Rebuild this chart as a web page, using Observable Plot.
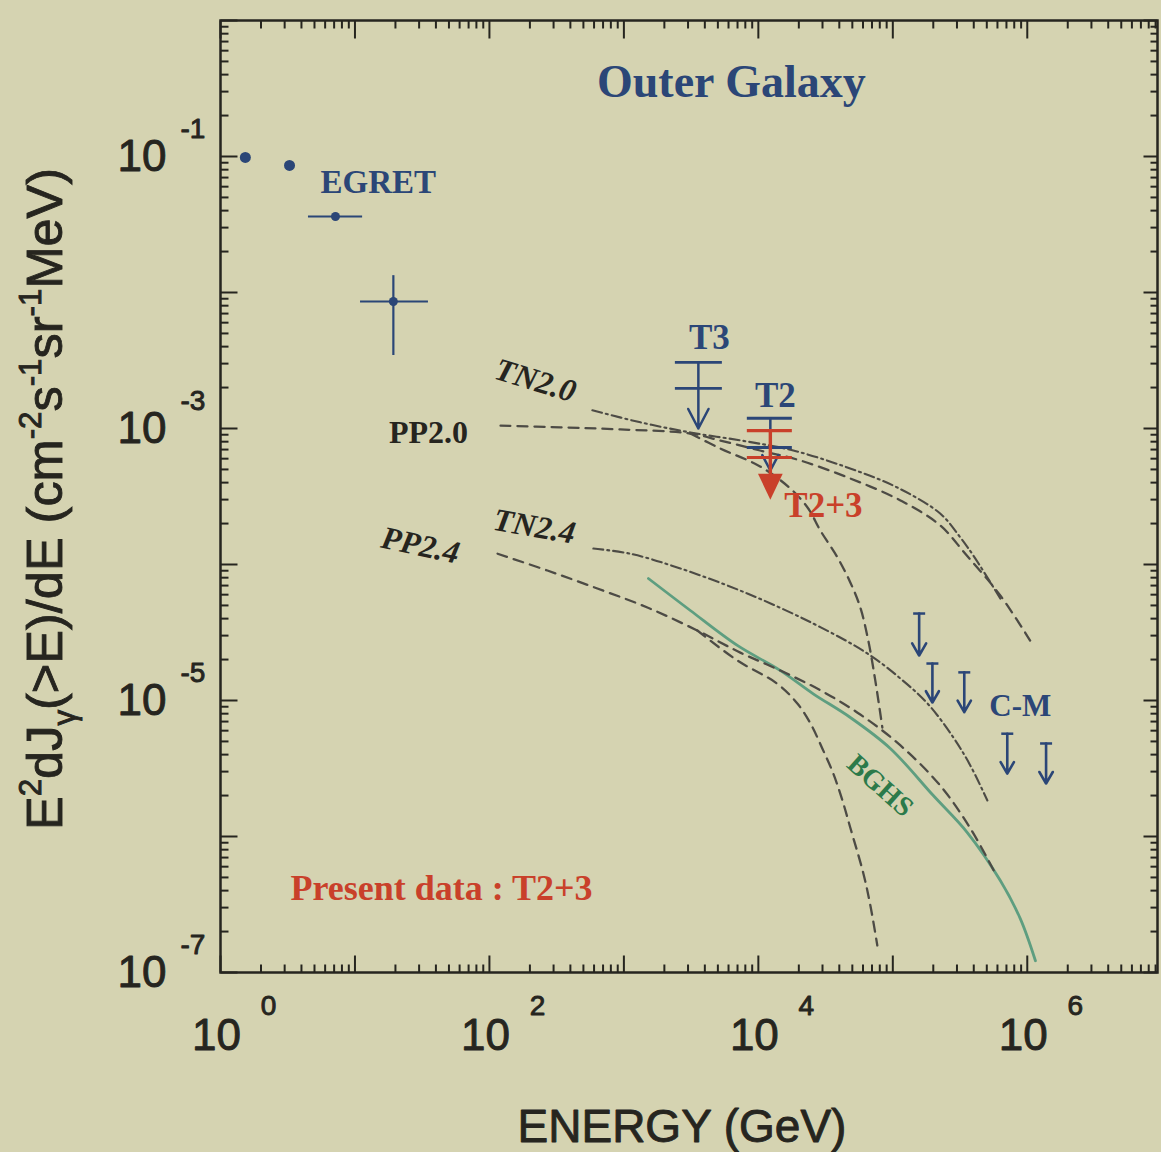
<!DOCTYPE html>
<html>
<head>
<meta charset="utf-8">
<script src="https://cdn.jsdelivr.net/npm/d3@7"></script>
<script src="https://cdn.jsdelivr.net/npm/@observablehq/plot@0.6"></script>
<style>
  html, body { margin: 0; padding: 0; background: #d5d3b1; }
  #chart svg { display: block; }
</style>
</head>
<body>
<div id="chart"></div>
<script>
// ---------------- DATA ----------------
// EGRET points: energy (GeV), flux, error extents
const egretE    = [1.53, 3.26, 7.16, 19.3];
const egretF    = [0.0984, 0.0859, 0.0362, 0.00859];
const egretElo  = [null, null, 4.51, 11.0];
const egretEhi  = [null, null, 11.4, 35.2];
const egretFlo  = [null, null, null, 0.00344];
const egretFhi  = [null, null, null, 0.0133];

// Model curves
const tn20E = [583, 1327, 3120, 8280, 18200, 45900, 108000, 225000, 318000, 410000, 630000];
const tn20F = [1.36e-3, 1.11e-3, 9.35e-4, 8.02e-4, 6.89e-4, 5.17e-4, 3.68e-4, 2.37e-4, 1.58e-4, 1.11e-4, 5.62e-5];

const pp20E = [121, 337, 942, 3120, 5210, 10300, 20500, 48300, 114000, 225000, 346000, 630000, 1.05e6];
const pp20F = [1.05e-3, 1.02e-3, 9.84e-4, 9.19e-4, 8.16e-4, 6.89e-4, 5.82e-4, 4.29e-4, 2.96e-4, 1.94e-4, 1.20e-4, 5.92e-5, 2.76e-5];

const pp20cutE = [3120, 5210, 10300, 17300, 23500, 28900, 38700, 48300, 57300, 65700, 74100, 83600];
const pp20cutF = [9.19e-4, 7.13e-4, 5.26e-4, 3.62e-4, 2.58e-4, 1.78e-4, 1.13e-4, 7.38e-5, 4.83e-5, 2.76e-5, 1.40e-5, 6.33e-6];

const tn24E = [593, 1117, 2630, 8280, 25600, 64600, 114000, 181000, 282000, 377000, 505000];
const tn24F = [1.31e-4, 1.20e-4, 9.35e-5, 6.12e-5, 3.68e-5, 2.22e-5, 1.45e-5, 9.51e-6, 5.35e-6, 3.33e-6, 1.84e-6];

const pp24E = [115, 270, 635, 1496, 3520, 7340, 14600, 28900, 57300, 114000, 225000, 377000, 578000];
const pp24F = [1.20e-4, 9.03e-5, 6.66e-5, 4.83e-5, 3.27e-5, 2.25e-5, 1.66e-5, 1.19e-5, 7.89e-6, 4.67e-6, 2.37e-6, 1.15e-6, 5.35e-7];

const pp24cutE = [3520, 6980, 13800, 19500, 24400, 29900, 36100, 42200, 48300, 60400, 68100, 76700];
const pp24cutF = [3.27e-5, 1.97e-5, 1.33e-5, 9.51e-6, 6.78e-6, 4.44e-6, 2.90e-6, 1.84e-6, 1.16e-6, 5.35e-7, 3.11e-7, 1.58e-7];

const bghsE = [1521, 3120, 6980, 14600, 25600, 48300, 95800, 200000, 358000, 630000, 887000, 1.15e6];
const bghsF = [7.89e-5, 4.59e-5, 2.54e-5, 1.66e-5, 1.12e-5, 7.50e-6, 4.44e-6, 2.00e-6, 1.07e-6, 4.75e-7, 2.49e-7, 1.22e-7];

// Upper limits T3, T2 (blue) and T2+3 (red)
const limNames = ["T3", "T2", "T2+3"];
const limE     = [3580, 12280, 12280];
const limEmin  = [2415, 8280, 8280];
const limEmax  = [5400, 17900, 17900];
const limHi    = [3.06e-3, 1.19e-3, 9.66e-4];
const limLo    = [1.97e-3, 7.25e-4, 6.12e-4];
const limTip   = [1.0e-3, 4.91e-4, 3.06e-4];

// C-M upper limits
const cmE   = [157000, 197000, 340000, 710000, 1.38e6];
const cmTop = [4.36e-5, 1.87e-5, 1.61e-5, 5.7e-6, 4.83e-6];
const cmTip = [2.14e-5, 9.67e-6, 8.2e-6, 2.9e-6, 2.45e-6];

// Axis
const xDomain = [1, 9.3e6];
const yDomain = [1e-7, 1];
const xLabelExps = [0, 2, 4, 6];
const yLabelExps = [-1, -3, -5, -7];

// ---------------- STYLE ----------------
const bg = "#d5d3b1", ink = "#26251f", navy = "#2b4677", red = "#c9402a";
const curveInk = "#4d4b45", greenLine = "#5e9e80", greenText = "#2c7a4a";
const serif = "Liberation Serif, Times New Roman, serif";
const sans = "Liberation Sans, Arial, Helvetica, sans-serif";

// ---------------- BUILD ----------------
const zip = (E, F) => E.map((e, i) => ({E: e, F: F[i]}));
const tn20 = zip(tn20E, tn20F), pp20 = zip(pp20E, pp20F), pp20c = zip(pp20cutE, pp20cutF);
const tn24 = zip(tn24E, tn24F), pp24 = zip(pp24E, pp24F), pp24c = zip(pp24cutE, pp24cutF);
const bghs = zip(bghsE, bghsF);
const egret = egretE.map((e, i) => ({E: e, F: egretF[i], Elo: egretElo[i], Ehi: egretEhi[i], Flo: egretFlo[i], Fhi: egretFhi[i], big: i < 2}));
const lims = limNames.map((n, i) => ({name: n, E: limE[i], Emin: limEmin[i], Emax: limEmax[i], hi: limHi[i], lo: limLo[i], tip: limTip[i]}));
const blueLims = lims.filter(d => d.name !== "T2+3");
const redLims = lims.filter(d => d.name === "T2+3");
const cm = cmE.map((e, i) => ({E: e, top: cmTop[i], tip: cmTip[i]}));

const isMajor = v => Math.abs(Math.log10(v) - Math.round(Math.log10(v))) < 1e-9;
const xTicks = d3.scaleLog().domain(xDomain).ticks();
const yTicks = d3.scaleLog().domain(yDomain).ticks();
const xMajor = xTicks.filter(isMajor), xMinor = xTicks.filter(v => !isMajor(v));
const yMajor = yTicks.filter(isMajor), yMinor = yTicks.filter(v => !isMajor(v));

// custom symbols (pixel-sized)
const stick = (dx, dy) => ({draw(ctx, size) { const r = Math.sqrt(size / Math.PI); ctx.moveTo(0, 0); ctx.lineTo(dx * r, dy * r); }});
const tUp = stick(0, -1), tDown = stick(0, 1), tRight = stick(1, 0), tLeft = stick(-1, 0);
const hbar = {draw(ctx, size) { const r = Math.sqrt(size / Math.PI); ctx.moveTo(-r, 0); ctx.lineTo(r, 0); }};
const triDown = {draw(ctx, size) { const r = Math.sqrt(size / Math.PI); ctx.moveTo(-r * 0.95, -r); ctx.lineTo(r * 0.95, -r); ctx.lineTo(0, r); ctx.closePath(); }};

const tickStyle = {stroke: ink, strokeWidth: 2, fill: "none"};
const heavy = {stroke: ink, strokeWidth: 0.9};

const svg = Plot.plot({
  width: 1161,
  height: 1152,
  marginLeft: 220,
  marginRight: 4,
  marginTop: 20,
  marginBottom: 180,
  x: {type: "log", domain: xDomain, axis: null},
  y: {type: "log", domain: yDomain, axis: null},
  style: {background: bg, overflow: "visible"},
  marks: [
    // inward ticks on the four sides
    Plot.dot(xMajor, {x: d => d, frameAnchor: "bottom", symbol: tUp, r: 17, ...tickStyle}),
    Plot.dot(xMinor, {x: d => d, frameAnchor: "bottom", symbol: tUp, r: 8, ...tickStyle}),
    Plot.dot(xMajor, {x: d => d, frameAnchor: "top", symbol: tDown, r: 18, ...tickStyle}),
    Plot.dot(xMinor, {x: d => d, frameAnchor: "top", symbol: tDown, r: 8, ...tickStyle}),
    Plot.dot(yMajor, {y: d => d, frameAnchor: "left", symbol: tRight, r: 17, ...tickStyle}),
    Plot.dot(yMinor, {y: d => d, frameAnchor: "left", symbol: tRight, r: 8, ...tickStyle}),
    Plot.dot(yMajor, {y: d => d, frameAnchor: "right", symbol: tLeft, r: 14, ...tickStyle}),
    Plot.dot(yMinor, {y: d => d, frameAnchor: "right", symbol: tLeft, r: 7, ...tickStyle}),
    Plot.frame({stroke: ink, strokeWidth: 2.5}),

    // tick labels  10^n
    Plot.text(xLabelExps, {x: d => 10 ** d, frameAnchor: "bottom", text: () => "10", dy: 77, dx: -4, lineAnchor: "bottom", fontSize: 44, fontFamily: sans, fill: ink, ...heavy}),
    Plot.text(xLabelExps, {x: d => 10 ** d, frameAnchor: "bottom", text: d => String(d), dy: 42, dx: 48, lineAnchor: "bottom", textAnchor: "middle", fontSize: 28, fontFamily: sans, fill: ink, ...heavy}),
    Plot.text(yLabelExps, {y: d => 10 ** d, frameAnchor: "left", text: () => "10", dx: -54, textAnchor: "end", lineAnchor: "middle", fontSize: 44, fontFamily: sans, fill: ink, ...heavy}),
    Plot.text(yLabelExps, {y: d => 10 ** d, frameAnchor: "left", text: d => String(d), dx: -40, dy: -19, textAnchor: "start", lineAnchor: "bottom", fontSize: 28, fontFamily: sans, fill: ink, ...heavy}),
    Plot.text(["ENERGY (GeV)"], {frameAnchor: "bottom", text: d => d, dy: 169, dx: -7, lineAnchor: "bottom", fontSize: 46, fontFamily: sans, fill: ink, ...heavy}),

    // model curves
    Plot.line(pp20, {x: "E", y: "F", curve: "catmull-rom", stroke: curveInk, strokeWidth: 2.3, strokeDasharray: "10,7"}),
    Plot.line(pp20c, {x: "E", y: "F", curve: "catmull-rom", stroke: curveInk, strokeWidth: 2.3, strokeDasharray: "10,7"}),
    Plot.line(tn20, {x: "E", y: "F", curve: "catmull-rom", stroke: curveInk, strokeWidth: 2.1, strokeDasharray: "10,4,2,4"}),
    Plot.line(bghs, {x: "E", y: "F", curve: "catmull-rom", stroke: greenLine, strokeWidth: 2.8}),
    Plot.line(pp24, {x: "E", y: "F", curve: "catmull-rom", stroke: curveInk, strokeWidth: 2.3, strokeDasharray: "10,7"}),
    Plot.line(pp24c, {x: "E", y: "F", curve: "catmull-rom", stroke: curveInk, strokeWidth: 2.3, strokeDasharray: "10,7"}),
    Plot.line(tn24, {x: "E", y: "F", curve: "catmull-rom", stroke: curveInk, strokeWidth: 2.1, strokeDasharray: "10,4,2,4"}),

    // EGRET
    Plot.ruleY(egret.filter(d => d.Elo != null), {y: "F", x1: "Elo", x2: "Ehi", stroke: navy, strokeWidth: 2.2}),
    Plot.ruleX(egret.filter(d => d.Flo != null), {x: "E", y1: "Flo", y2: "Fhi", stroke: navy, strokeWidth: 2.2}),
    Plot.dot(egret.filter(d => d.big), {x: "E", y: "F", r: 5.5, fill: navy, stroke: "none"}),
    Plot.dot(egret.filter(d => !d.big), {x: "E", y: "F", r: 4.5, fill: navy, stroke: "none"}),

    // T3 / T2 upper limits (blue)
    Plot.ruleY(blueLims, {y: "hi", x1: "Emin", x2: "Emax", stroke: navy, strokeWidth: 2.8}),
    Plot.ruleY(blueLims, {y: "lo", x1: "Emin", x2: "Emax", stroke: navy, strokeWidth: 2.8}),
    Plot.arrow(blueLims, {x1: "E", x2: "E", y1: "hi", y2: "tip", stroke: navy, strokeWidth: 2.5, headLength: 22, headAngle: 55}),
    // T2+3 (red)
    Plot.ruleY(redLims, {y: "hi", x1: "Emin", x2: "Emax", stroke: red, strokeWidth: 3.2}),
    Plot.ruleY(redLims, {y: "lo", x1: "Emin", x2: "Emax", stroke: red, strokeWidth: 3.2}),
    Plot.ruleX(redLims, {x: "E", y1: "hi", y2: d => d.tip * 1.35, stroke: red, strokeWidth: 3.4}),
    Plot.dot(redLims, {x: "E", y: d => d.tip * 1.22, symbol: triDown, r: 13, fill: red, stroke: "none"}),

    // C-M upper limits
    Plot.dot(cm, {x: "E", y: "top", symbol: hbar, r: 6, stroke: navy, strokeWidth: 2.5, fill: "none"}),
    Plot.arrow(cm, {x1: "E", x2: "E", y1: "top", y2: "tip", stroke: navy, strokeWidth: 2.6, headLength: 16, headAngle: 60}),

    // annotations
    Plot.text(["Outer Galaxy"], {x: [6300], y: [0.276], text: d => d, textAnchor: "middle", lineAnchor: "bottom", fontSize: 46, fontWeight: "bold", fontFamily: serif, fill: navy}),
    Plot.text(["EGRET"], {x: [5.54], y: [0.0535], text: d => d, textAnchor: "start", lineAnchor: "bottom", fontSize: 33, fontWeight: "bold", fontFamily: serif, fill: navy}),
    Plot.text(["T3"], {x: [4320], y: [3.81e-3], text: d => d, textAnchor: "middle", lineAnchor: "bottom", fontSize: 35, fontWeight: "bold", fontFamily: serif, fill: navy}),
    Plot.text(["T2"], {x: [13400], y: [1.45e-3], text: d => d, textAnchor: "middle", lineAnchor: "bottom", fontSize: 35, fontWeight: "bold", fontFamily: serif, fill: navy}),
    Plot.text(["T2+3"], {x: [15600], y: [2.22e-4], text: d => d, textAnchor: "start", lineAnchor: "bottom", fontSize: 35, fontWeight: "bold", fontFamily: serif, fill: red}),
    Plot.text(["C-M"], {x: [887000], y: [9.03e-6], text: d => d, textAnchor: "middle", lineAnchor: "middle", fontSize: 31, fontWeight: "bold", fontFamily: serif, fill: navy}),
    Plot.text(["PP2.0"], {x: [35.2], y: [9.35e-4], text: d => d, textAnchor: "middle", lineAnchor: "middle", fontSize: 32, fontWeight: "bold", fontFamily: serif, fill: ink}),
    Plot.text(["TN2.0"], {x: [220], y: [2.25e-3], text: d => d, textAnchor: "middle", lineAnchor: "middle", rotate: 17, fontSize: 32, fontWeight: "bold", fontStyle: "italic", fontFamily: serif, fill: ink}),
    Plot.text(["TN2.4"], {x: [216], y: [1.90e-4], text: d => d, textAnchor: "middle", lineAnchor: "middle", rotate: 10, fontSize: 32, fontWeight: "bold", fontStyle: "italic", fontFamily: serif, fill: ink}),
    Plot.text(["PP2.4"], {x: [30.7], y: [1.38e-4], text: d => d, textAnchor: "middle", lineAnchor: "middle", rotate: 12, fontSize: 32, fontWeight: "bold", fontStyle: "italic", fontFamily: serif, fill: ink}),
    Plot.text(["BGHS"], {x: [80700], y: [2.37e-6], text: d => d, textAnchor: "middle", lineAnchor: "middle", rotate: 42, fontSize: 28, fontWeight: "bold", fontFamily: serif, fill: greenText}),
    Plot.text(["Present data : T2+3"], {x: [3.31], y: [3.44e-7], text: d => d, textAnchor: "start", lineAnchor: "bottom", fontSize: 36, fontWeight: "bold", fontFamily: serif, fill: red})
  ]
});

document.getElementById("chart").appendChild(svg);

// Y axis title with super/subscripts
const yTitle = d3.select(svg).append("text")
  .attr("transform", "translate(62,499) rotate(-90)")
  .attr("text-anchor", "middle")
  .attr("font-family", sans)
  .attr("fill", ink)
  .attr("stroke", ink)
  .attr("stroke-width", 0.9);

function buildYTitle(fs) {
  yTitle.selectAll("*").remove();
  yTitle.attr("font-size", fs);
  const sup = fs * 0.62, up = fs * 0.42, sub = fs * 0.25;
  const parts = [
    ["E", 0, fs], ["2", -up, sup], ["dJ", up, fs], ["\u03b3", sub, sup],
    ["(>E)/dE (cm", -sub, fs], ["-2", -up, sup], ["s", up, fs], ["-1", -up, sup],
    ["sr", up, fs], ["-1", -up, sup], ["MeV)", up, fs]
  ];
  for (const [t, dy, size] of parts) {
    yTitle.append("tspan").attr("dy", dy).attr("font-size", size).text(t);
  }
}
buildYTitle(38);
const len = yTitle.node().getComputedTextLength();
if (len > 0) buildYTitle(38 * 662 / len);
</script>
</body>
</html>
